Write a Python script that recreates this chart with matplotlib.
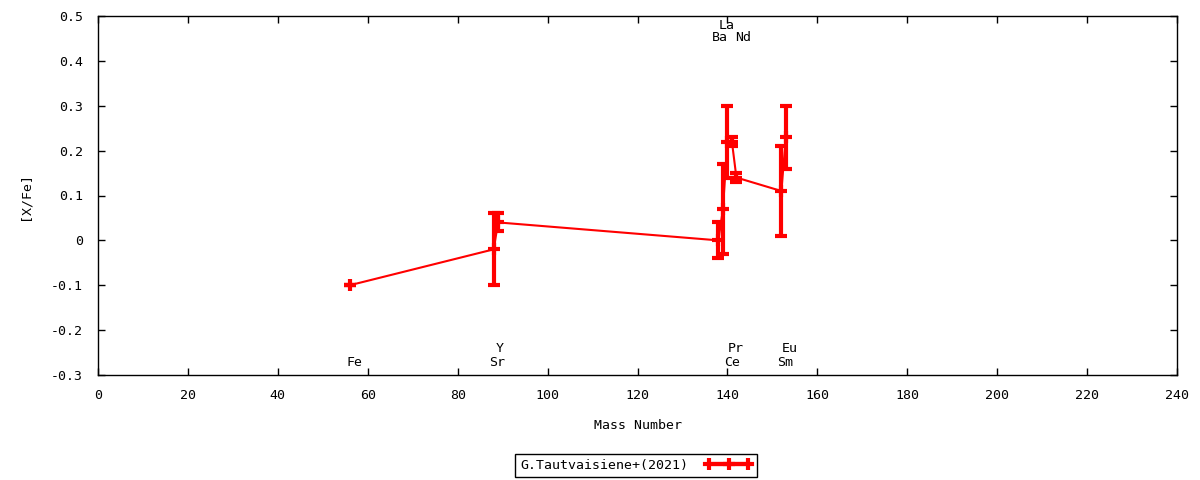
import matplotlib
matplotlib.use("Agg")
import matplotlib.pyplot as plt
from matplotlib.lines import Line2D
from matplotlib.legend_handler import HandlerLine2D, HandlerTuple

# ---- data ----
elements = ["Fe", "Sr", "Y", "Ba", "La", "Ce", "Pr", "Nd", "Sm", "Eu"]
mass_number = [56, 88, 89, 138, 139, 140, 141, 142, 152, 153]
x_fe = [-0.10, -0.02, 0.04, 0.00, 0.07, 0.22, 0.22, 0.14, 0.11, 0.23]
x_fe_err = [0.0, 0.08, 0.02, 0.04, 0.10, 0.08, 0.01, 0.01, 0.10, 0.07]
series_label = "G.Tautvaisiene+(2021)"
x_ticks = list(range(0, 241, 20))
y_ticks = [-0.3, -0.2, -0.1, 0, 0.1, 0.2, 0.3, 0.4, 0.5]
y_tick_labels = ["-0.3", "-0.2", "-0.1", "0", "0.1", "0.2", "0.3", "0.4", "0.5"]

# label placement (layout only)
bottom_upper = {"Y", "Pr", "Eu"}
top_elements = {"Ba", "La", "Nd"}
top_upper = {"La"}
label_dx = {"Fe": 1.1, "Sr": 0.7, "Y": 0.4, "Ba": 0.4, "La": 0.8,
            "Ce": 1.0, "Pr": 0.8, "Nd": 1.4, "Sm": 0.8, "Eu": 0.9}

plt.rcParams['font.family'] = ['DejaVu Sans Mono', 'DejaVu Sans']
plt.rcParams['font.size'] = 9.5

fig = plt.figure(figsize=(12, 4.8), dpi=100)
ax = fig.add_axes([98/1200, 1 - 375/480, (1177-98)/1200, (375-16)/480])

red = (1, 0, 0)
ax.plot(mass_number, x_fe, color=red, lw=1.5, zorder=2)
ax.errorbar(mass_number, x_fe, yerr=x_fe_err, fmt='none', ecolor=red,
            elinewidth=3, capsize=4, capthick=3, zorder=3)
ax.plot(mass_number, x_fe, ls='none', marker='+', ms=8, mew=3, color=red, zorder=4)

for el, m in zip(elements, mass_number):
    if el in top_elements:
        y = 0.479 if el in top_upper else 0.453
    else:
        y = -0.242 if el in bottom_upper else -0.273
    ax.text(m + label_dx[el], y, el, ha='center', va='center')

ax.set_xlim(0, 240)
ax.set_ylim(-0.3, 0.5)
ax.set_xticks(x_ticks)
ax.set_yticks(y_ticks)
ax.set_yticklabels(y_tick_labels)
ax.tick_params(axis='both', direction='in', top=True, right=True, length=5, width=1)
ax.tick_params(axis='x', pad=10)
ax.tick_params(axis='y', pad=11)
for s in ax.spines.values():
    s.set_linewidth(1)
ax.set_xlabel("Mass Number", labelpad=12)
ax.set_ylabel("[X/Fe]", labelpad=14)

# legend resembling gnuplot sample
h_ends = Line2D([], [], color=red, lw=3, marker='|', ms=9, mew=3)
h_mid = Line2D([], [], color=red, lw=3, marker='+', ms=9, mew=3)
leg = fig.legend([(h_ends, h_mid)], [series_label],
                 handler_map={h_ends: HandlerLine2D(numpoints=2),
                              h_mid: HandlerLine2D(numpoints=1),
                              tuple: HandlerTuple(ndivide=1)},
                 loc='center', bbox_to_anchor=(636/1200, 1 - 465.5/480),
                 markerfirst=False, frameon=True, fancybox=False,
                 edgecolor='black', framealpha=1, handlelength=3.5,
                 borderpad=0.4, handletextpad=1.3, borderaxespad=0)
leg.get_frame().set_linewidth(1)

fig.savefig("out.png", dpi=100)
